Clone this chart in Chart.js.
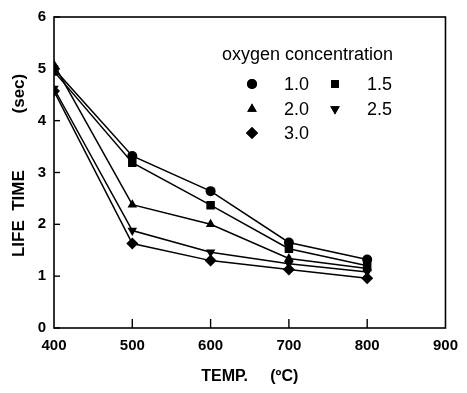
<!DOCTYPE html>
<html><head><meta charset="utf-8">
<script src="https://cdn.jsdelivr.net/npm/chart.js@4"></script>
<style>html,body{margin:0;padding:0;background:#fff}#wrap{width:467px;height:393px}</style>
</head><body><div id="wrap"><canvas id="c" width="467" height="393"></canvas></div>
<script>
const temps = [400, 500, 600, 700, 800];
const conc10 = [5.0, 3.32, 2.64, 1.65, 1.32];
const conc15 = [4.95, 3.19, 2.37, 1.53, 1.2];
const conc20 = [5.08, 2.38, 2.0, 1.34, 1.15];
const conc25 = [4.62, 1.88, 1.46, 1.24, 1.08];
const conc30 = [4.57, 1.63, 1.3, 1.13, 0.96];
const seriesLabels = ['1.0', '1.5', '2.0', '2.5', '3.0'];
const xTicks = [400, 500, 600, 700, 800, 900];
const yTicks = [0, 1, 2, 3, 4, 5, 6];
const legendTitle = 'oxygen concentration';
const xTitle = 'TEMP.     (ºC)';
const yTitle = '   LIFE  TIME            (sec)';

const FONT = '"Liberation Sans", Arial, sans-serif';
const styles = [
  {pointStyle: 'circle', rotation: 0, radius: 5},
  {pointStyle: 'rect', rotation: 0, radius: 6},
  {pointStyle: 'triangle', rotation: 0, radius: 5.5},
  {pointStyle: 'triangle', rotation: 180, radius: 5.5},
  {pointStyle: 'rectRot', rotation: 0, radius: 6}
];
const allSeries = [conc10, conc15, conc20, conc25, conc30];
const datasets = allSeries.map((vals, i) => ({
  label: seriesLabels[i],
  data: temps.map((t, j) => ({x: t, y: vals[j]})),
  borderColor: '#000', backgroundColor: '#000', borderWidth: 1.5,
  pointStyle: styles[i].pointStyle, rotation: styles[i].rotation,
  pointRadius: styles[i].radius, pointBorderWidth: 0,
  pointBackgroundColor: '#000', tension: 0
}));

const frame = {
  id: 'frame',
  afterDraw(chart) {
    const {ctx, chartArea: a, scales: {x, y}} = chart;
    ctx.save();
    ctx.strokeStyle = '#000';
    ctx.lineWidth = 1.6;
    ctx.strokeRect(a.left, a.top, a.right - a.left, a.bottom - a.top);
    ctx.lineWidth = 1.4;
    yTicks.forEach(v => {
      const py = y.getPixelForValue(v);
      ctx.beginPath(); ctx.moveTo(a.left, py); ctx.lineTo(a.left + 6, py); ctx.stroke();
    });
    xTicks.slice(1, -1).forEach(v => {
      const px = x.getPixelForValue(v);
      ctx.beginPath(); ctx.moveTo(px, a.bottom); ctx.lineTo(px, a.bottom - 9); ctx.stroke();
    });
    // legend
    ctx.fillStyle = '#000';
    ctx.font = '18px ' + FONT;
    ctx.textBaseline = 'middle';
    ctx.textAlign = 'left';
    ctx.fillText(legendTitle, 222, 55);
    const pos = [[252, 84], [335, 84], [252, 109], [335, 109], [252, 133]];
    seriesLabels.forEach((lab, i) => {
      const [mx, my] = pos[i];
      const r = i === 1 ? 5.5 : styles[i].radius;
      Chart.helpers.drawPoint(ctx, {pointStyle: styles[i].pointStyle, rotation: styles[i].rotation, radius: r, borderWidth: 0}, mx, my);
      ctx.fill();
      ctx.fillText(lab, mx + 32, my + 1);
    });
    ctx.restore();
  }
};

new Chart(document.getElementById('c'), {
  type: 'line',
  data: {datasets},
  options: {
    responsive: false, animation: false,
    layout: {padding: {top: 8, right: 20, left: 0, bottom: 3}},
    plugins: {legend: {display: false}, tooltip: {enabled: false}},
    scales: {
      x: {
        type: 'linear', min: 400, max: 900,
        afterBuildTicks(s) { s.ticks = xTicks.map(v => ({value: v})); },
        afterFit(s) { s.height = 62; },
        grid: {display: false, drawTicks: false},
        border: {display: false},
        ticks: {color: '#000', padding: 9, font: {size: 15, weight: 'bold', family: FONT}, maxRotation: 0},
        title: {display: true, text: xTitle, color: '#000', padding: {top: 10}, font: {size: 16, weight: 'bold', family: FONT}}
      },
      y: {
        min: 0, max: 6,
        afterBuildTicks(s) { s.ticks = yTicks.map(v => ({value: v})); },
        afterFit(s) { s.width = 54; },
        grid: {display: false, drawTicks: false},
        border: {display: false},
        ticks: {color: '#000', padding: 8, font: {size: 15, weight: 'bold', family: FONT}},
        title: {display: true, text: yTitle, color: '#000', padding: {top: 9, bottom: 9}, font: {size: 17, weight: 'bold', family: FONT}}
      }
    }
  },
  plugins: [frame]
});
</script></body></html>
